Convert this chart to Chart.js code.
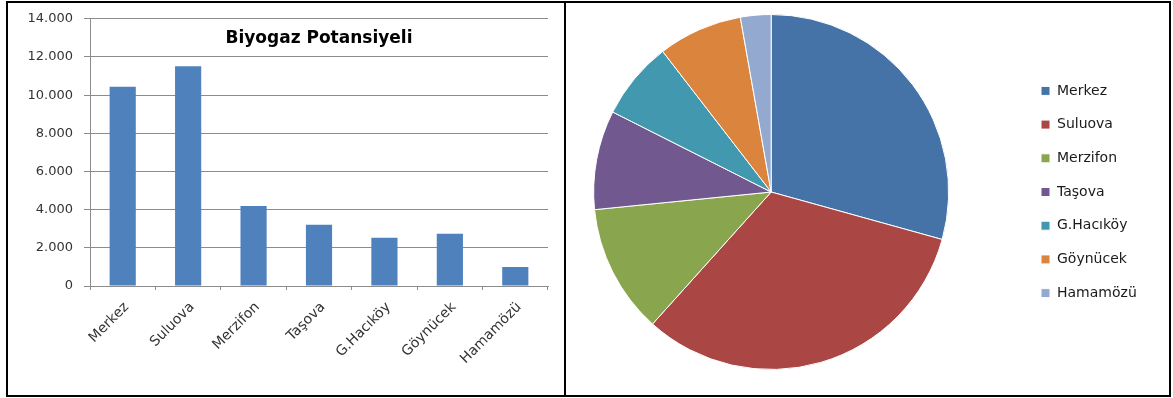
<!DOCTYPE html>
<html>
<head>
<meta charset="utf-8">
<script src="https://cdn.jsdelivr.net/npm/chart.js@4.4.1/dist/chart.umd.min.js"></script>
<style>
  html, body { margin: 0; padding: 0; background: #fff; }
  #page { position: relative; width: 1173px; height: 398px; overflow: hidden; }
  .frame { position: absolute; left: 6px; top: 1px; width: 1165px; height: 396px; box-sizing: border-box; border: 2px solid #000; }
  .divider { position: absolute; left: 564px; top: 1px; width: 2px; height: 396px; background: #000; }
  canvas { position: absolute; top: 0; }
  #barChart { left: 0; }
  #pieChart { left: 521px; }
</style>
</head>
<body>
<div id="page">
  <div class="frame"></div>
  <div class="divider"></div>
  <canvas id="barChart" width="565" height="398"></canvas>
  <canvas id="pieChart" width="645" height="398"></canvas>
</div>
<script>
const districts = ['Merkez', 'Suluova', 'Merzifon', 'Taşova', 'G.Hacıköy', 'Göynücek', 'Hamamözü'];
const biogas = [10440, 11520, 4190, 3215, 2530, 2735, 990];
const yTicks = [0, 2000, 4000, 6000, 8000, 10000, 12000, 14000];
const chartTitle = 'Biyogaz Potansiyeli';
const sliceColors = ['#4572A7', '#AA4643', '#89A54E', '#71588F', '#4198AF', '#DB843D', '#93A9CF'];

function dotted(v) {
    // 12000 -> 12.000
    return String(v).replace(/\B(?=(\d{3})+(?!\d))/g, '.');
}

const gridGray = '#8c8c8c';
const textGray = '#333';

new Chart(document.getElementById('barChart'), {
    type: 'bar',
    data: {
        labels: districts,
        datasets: [{
            label: chartTitle,
            data: biogas,
            backgroundColor: '#4F81BD',
            borderWidth: 0,
            categoryPercentage: 1,
            barPercentage: 0.4
        }]
    },
    options: {
        responsive: false,
        animation: false,
        layout: { padding: { left: 0, top: 13, right: 17, bottom: 0 } },
        plugins: {
            legend: { display: false },
            tooltip: { enabled: false },
            title: {
                display: true,
                text: chartTitle,
                fullSize: false,
                color: '#000',
                font: { family: 'DejaVu Sans', size: 17, weight: 'bold', lineHeight: 1.2 },
                padding: { top: 10, bottom: -30.4 }
            }
        },
        scales: {
            x: {
                grid: { drawOnChartArea: false, color: gridGray, tickLength: 4 },
                border: { color: gridGray },
                ticks: {
                    color: textGray,
                    font: { family: 'DejaVu Sans', size: 14 },
                    minRotation: 45,
                    maxRotation: 45,
                    padding: 9,
                    labelOffset: 4
                },
                afterFit: function(scale) { scale.height = 112; }
            },
            y: {
                min: yTicks[0],
                max: yTicks[yTicks.length - 1],
                grid: { color: gridGray, tickLength: 6 },
                border: { color: gridGray },
                ticks: {
                    stepSize: yTicks[1] - yTicks[0],
                    color: textGray,
                    font: { family: 'DejaVu Sans', size: 13 },
                    padding: 11,
                    callback: function(value) { return dotted(value); }
                },
                afterFit: function(scale) { scale.width = 90; }
            }
        }
    }
});

// legend column must start at x=1041 on the page
const pieCanvas = document.getElementById('pieChart');
const measureCtx = pieCanvas.getContext('2d');
measureCtx.font = '14px "DejaVu Sans"';
const widest = Math.max(...districts.map(d => measureCtx.measureText(d).width));
const legendBox = 9;
const colWidth = legendBox + 7 + widest;
const rightPad = pieCanvas.width - (1041 - 521) - colWidth - 10; // legend adds 10px in vertical mode

new Chart(pieCanvas, {
    type: 'pie',
    data: {
        labels: districts,
        datasets: [{
            data: biogas,
            backgroundColor: sliceColors,
            borderColor: '#ffffff',
            borderWidth: 1
        }]
    },
    options: {
        responsive: false,
        animation: false,
        layout: { padding: { left: 0, top: 14, right: rightPad, bottom: 28 } },
        plugins: {
            tooltip: { enabled: false },
            legend: {
                position: 'right',
                labels: {
                    color: '#1a1a1a',
                    font: { family: 'DejaVu Sans', size: 14 },
                    boxWidth: legendBox,
                    boxHeight: legendBox,
                    padding: 19.7
                }
            }
        }
    }
});
</script>
</body>
</html>
